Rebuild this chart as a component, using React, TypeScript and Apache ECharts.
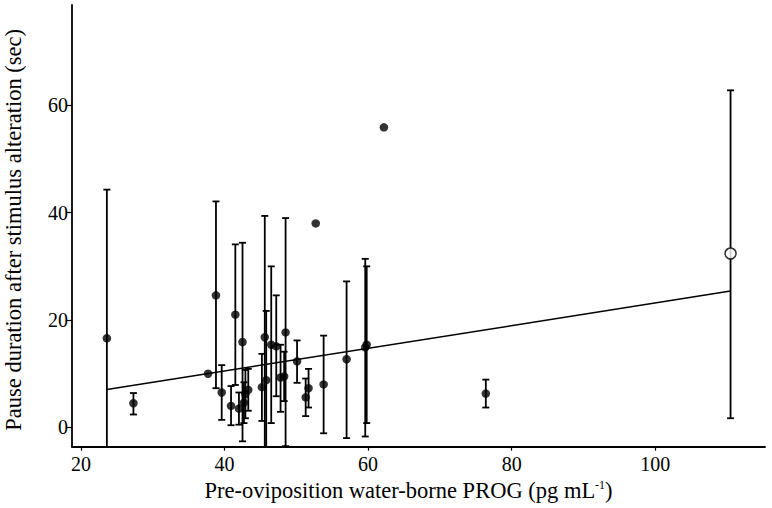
import React, { useEffect, useRef } from "react";
import * as echarts from "echarts";

// Filled points: PROG (x), mean pause (y), error bar low / high
const progValues = [23.6, 27.3, 37.7, 38.8, 39.6, 40.9, 41.5, 42.0, 42.5, 42.7, 42.9, 43.3, 45.2, 45.6, 45.8, 46.5, 47.2, 47.8, 48.3, 48.5, 50.1, 51.3, 51.7, 52.7, 53.8, 57.0, 59.6, 59.8, 62.2, 76.4];
const pauseMeans = [16.6, 4.5, 10.0, 24.6, 6.5, 4.0, 21.0, 3.5, 15.9, 4.6, 6.2, 7.0, 7.5, 16.8, 8.8, 15.4, 15.1, 9.3, 9.5, 17.7, 12.3, 5.6, 7.3, 38.0, 8.0, 12.7, 14.9, 15.4, 55.9, 6.3];
const errLow = [-11.2, 2.4, 10.0, 7.3, 1.4, 0.4, 7.9, 0.5, -2.6, 0.8, 1.7, 3.1, 1.2, -6.0, -4.5, 0.8, 5.8, 2.9, 4.9, -3.5, 8.3, 2.1, 3.7, 38.0, -1.1, -2.0, -1.7, 0.8, 55.9, 3.7];
const errHigh = [44.3, 6.4, 10.0, 42.1, 11.6, 7.7, 34.1, 6.5, 34.4, 8.4, 10.7, 10.9, 13.7, 39.4, 21.7, 30.0, 24.6, 15.4, 14.1, 39.0, 16.2, 9.1, 10.9, 38.0, 17.1, 27.2, 31.4, 30.0, 55.9, 8.9];

// Open (outlier) point
const openX = [110.5];
const openY = [32.4];
const openLow = [1.7];
const openHigh = [62.8];

// Regression line end points
const fitX = [23.6, 110.5];
const fitY = [7.04, 25.4];

const xTicks = [20, 40, 60, 80, 100];
const yTicks = [0, 20, 40, 60];
const X_MIN = 18.74;
const X_MAX = 115.3;
const Y_MIN = -3.6;
const Y_MAX = 78.7;

const FONT = "Liberation Serif";
const numRich = { n: { fontSize: 20, fontFamily: FONT, color: "#000" } };

export default function App() {
  const ref = useRef<HTMLDivElement>(null);
  useEffect(() => {
    if (!ref.current) return;
    const chart = echarts.init(ref.current, null, { renderer: "svg" });
    const errData = progValues
      .map((x, i) => [x, errLow[i], errHigh[i]])
      .concat(openX.map((x, i) => [x, openLow[i], openHigh[i]]));
    const option: any = {
      animation: false,
      backgroundColor: "#fff",
      textStyle: { fontFamily: FONT, color: "#000" },
      grid: { left: 72, right: 7, top: 5, bottom: 61.3, containLabel: false, outerBoundsMode: "none" },
      xAxis: {
        type: "value",
        min: X_MIN,
        max: X_MAX,
        splitLine: { show: false },
        axisLine: { show: true, onZero: false, lineStyle: { color: "#000", width: 1.8 } },
        axisTick: { show: true, customValues: xTicks, length: 4, lineStyle: { color: "#000", width: 1.2 } },
        axisLabel: {
          customValues: xTicks,
          color: "#000",
          fontSize: 20,
          fontFamily: FONT,
          margin: 7,
          formatter: (v: number) => `{n|${v}}`,
          rich: numRich,
        },
        name: "{a|Pre-oviposition water-borne PROG (pg mL}{s|-1}{a|)}",
        nameLocation: "middle",
        nameGap: 32,
        nameTextStyle: {
          fontFamily: FONT,
          padding: [0, 20, 0, 0],
          rich: {
            a: { fontSize: 22.5, fontFamily: FONT, color: "#000" },
            s: { fontSize: 12, fontFamily: FONT, color: "#000", verticalAlign: "top" },
          },
        },
      },
      yAxis: {
        type: "value",
        min: Y_MIN,
        max: Y_MAX,
        splitLine: { show: false },
        axisLine: { show: true, onZero: false, lineStyle: { color: "#000", width: 1.8 } },
        axisTick: { show: true, customValues: yTicks, length: 6, lineStyle: { color: "#000", width: 1.2 } },
        axisLabel: {
          customValues: yTicks,
          color: "#000",
          fontSize: 20,
          fontFamily: FONT,
          margin: 4,
          formatter: (v: number) => `{n|${v}}`,
          rich: numRich,
        },
        name: "Pause duration after stimulus alteration (sec)",
        nameLocation: "middle",
        nameGap: 47,
        nameTextStyle: { fontSize: 22.5, fontFamily: FONT, color: "#000", padding: [0, 8, 0, 0] },
      },
      series: [
        {
          type: "custom",
          data: errData,
          encode: { x: 0, y: [1, 2] },
          renderItem: (params: any, api: any) => {
            const x = api.value(0);
            const lo = api.value(1);
            const hi = api.value(2);
            if (lo === hi) return null;
            const loC = Math.max(lo, Y_MIN);
            const pTop = api.coord([x, hi]);
            const pBot = api.coord([x, loC]);
            const half = 3.5;
            const style = { stroke: "#000", lineWidth: 1.8 };
            const children: any[] = [
              { type: "line", shape: { x1: pTop[0], y1: pTop[1], x2: pBot[0], y2: pBot[1] }, style },
              { type: "line", shape: { x1: pTop[0] - half, y1: pTop[1], x2: pTop[0] + half, y2: pTop[1] }, style },
            ];
            if (lo >= Y_MIN) {
              children.push({ type: "line", shape: { x1: pBot[0] - half, y1: pBot[1], x2: pBot[0] + half, y2: pBot[1] }, style });
            }
            return { type: "group", children };
          },
          z: 1,
        },
        {
          type: "line",
          data: fitX.map((x, i) => [x, fitY[i]]),
          symbol: "none",
          lineStyle: { color: "#000", width: 1.5 },
          z: 2,
        },
        {
          type: "scatter",
          data: progValues.map((x, i) => [x, pauseMeans[i]]),
          symbol: "circle",
          symbolSize: 8.5,
          itemStyle: { color: "#000" },
          z: 3,
        },
        {
          type: "scatter",
          data: openX.map((x, i) => [x, openY[i]]),
          symbol: "circle",
          symbolSize: 11,
          itemStyle: { color: "#fff", borderColor: "#000", borderWidth: 1.5 },
          z: 4,
        },
      ],
    };
    chart.setOption(option);
    return () => chart.dispose();
  }, []);
  return <div ref={ref} style={{ position: "fixed", left: 0, top: 0, width: 772, height: 508 }} />;
}
